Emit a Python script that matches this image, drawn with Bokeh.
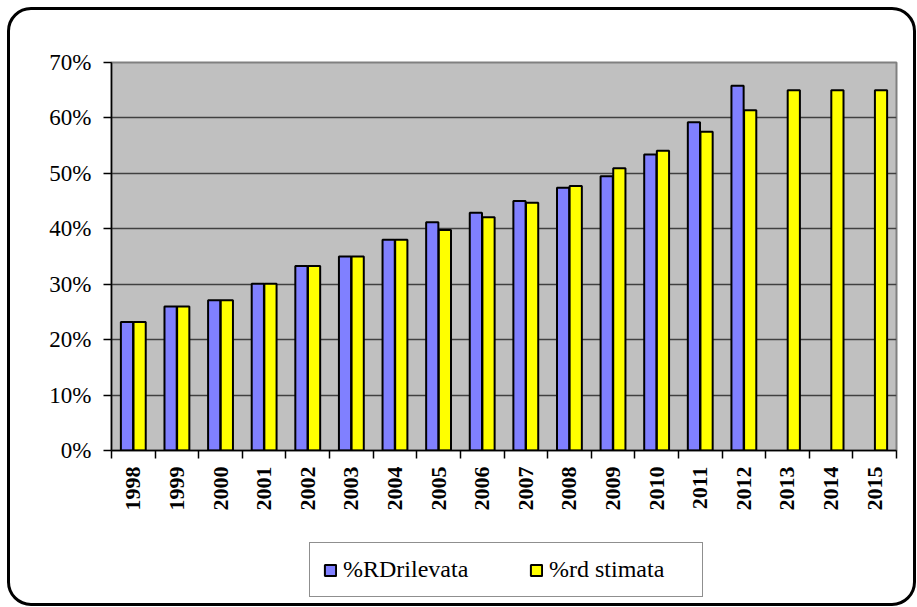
from bokeh.plotting import figure
from bokeh.layouts import column
from bokeh.models import (Range1d, FixedTicker, PrintfTickFormatter, Legend,
                          LegendItem)
from bokeh.embed import file_html
from bokeh.resources import INLINE
import math

years = ["1998", "1999", "2000", "2001", "2002", "2003", "2004", "2005", "2006",
         "2007", "2008", "2009", "2010", "2011", "2012", "2013", "2014", "2015"]
rd_rilevata = [23.2, 26.0, 27.1, 30.1, 33.3, 35.0, 38.0, 41.2, 42.9,
               45.0, 47.4, 49.5, 53.4, 59.2, 65.8, None, None, None]
rd_stimata = [23.2, 26.0, 27.1, 30.1, 33.3, 35.0, 38.0, 39.8, 42.1,
              44.7, 47.7, 50.9, 54.1, 57.5, 61.4, 65.0, 65.0, 65.0]
y_ticks = [0, 10, 20, 30, 40, 50, 60, 70]
series_names = ["%RDrilevata", "%rd stimata"]

SERIF = "Liberation Serif"
OFF = 0.145
BW = 0.28
BLUE = "#8080FF"
YELLOW = "#FFFF00"

p = figure(width=903, height=510, x_range=Range1d(0, len(years)),
           y_range=Range1d(0, 70), output_backend="svg", toolbar_location=None,
           min_border_left=101, min_border_right=17, min_border_top=52,
           min_border_bottom=70)
p.border_fill_color = None
p.background_fill_color = "#C0C0C0"
p.outline_line_color = "#808080"
p.outline_line_width = 2

bx = [i + 0.5 - OFF for i, v in enumerate(rd_rilevata) if v is not None]
bt = [v for v in rd_rilevata if v is not None]
yx = [i + 0.5 + OFF for i, v in enumerate(rd_stimata) if v is not None]
yt = [v for v in rd_stimata if v is not None]

p.vbar(x=bx, top=bt, width=BW, fill_color=BLUE, line_color="black", line_width=2)
p.vbar(x=yx, top=yt, width=BW, fill_color=YELLOW, line_color="black", line_width=2)

# x axis
xa = p.xaxis[0]
centers = [i + 0.5 for i in range(len(years))]
xa.ticker = FixedTicker(ticks=centers, minor_ticks=list(range(len(years) + 1)))
xa.major_label_overrides = {c: y for c, y in zip(centers, years)}
xa.major_tick_line_color = None
xa.major_tick_out = 8
xa.major_tick_in = 0
xa.minor_tick_line_color = "black"
xa.minor_tick_line_width = 1.5
xa.minor_tick_out = 8
xa.minor_tick_in = 0
xa.major_label_orientation = math.pi / 2
xa.major_label_standoff = 8
xa.major_label_text_font = SERIF
xa.major_label_text_font_style = "bold"
xa.major_label_text_font_size = "22px"
xa.major_label_text_color = "black"
xa.axis_line_color = "black"
xa.axis_line_width = 1.5

# y axis
ya = p.yaxis[0]
ya.ticker = FixedTicker(ticks=y_ticks)
ya.formatter = PrintfTickFormatter(format="%d%%")
ya.major_tick_out = 8
ya.major_tick_in = 0
ya.major_tick_line_width = 1.5
ya.major_tick_line_color = "black"
ya.minor_tick_line_color = None
ya.major_label_standoff = 12
ya.major_label_text_font = SERIF
ya.major_label_text_font_size = "23px"
ya.major_label_text_color = "black"
ya.axis_line_color = "black"
ya.axis_line_width = 1.5

p.xgrid.grid_line_color = None
p.ygrid.ticker = FixedTicker(ticks=y_ticks[1:-1])
p.ygrid.grid_line_color = "#404040"
p.ygrid.grid_line_width = 1.5

# legend panel (a second, axis-less figure below the chart); its key glyphs
# carry the series data on wide ranges, shrunk to a speck hidden under the
# opaque legend box
lg = figure(width=903, height=83, x_range=Range1d(-200, 200),
            y_range=Range1d(-500, 500), output_backend="svg",
            toolbar_location=None, min_border=0,
            x_axis_type=None, y_axis_type=None)
lg.border_fill_color = None
lg.background_fill_color = None
lg.outline_line_color = None
lg.xgrid.grid_line_color = None
lg.ygrid.grid_line_color = None
k1 = lg.vbar(x=bx, top=bt, width=BW, fill_color=BLUE, line_color="black",
             line_width=2)
k2 = lg.vbar(x=yx, top=yt, width=BW, fill_color=YELLOW, line_color="black",
             line_width=2)

legend = Legend(items=[LegendItem(label=series_names[0], renderers=[k1]),
                       LegendItem(label=series_names[1], renderers=[k2])],
                location=(198, 6), orientation="horizontal")
legend.border_line_color = "#202020"
legend.border_line_width = 1.5
legend.background_fill_color = "white"
legend.background_fill_alpha = 1
legend.label_text_font = SERIF
legend.label_text_font_size = "24px"
legend.label_text_color = "black"
legend.glyph_width = 14
legend.glyph_height = 14
legend.label_width = 140
legend.spacing = 46
legend.padding = 13
legend.margin = 0
legend.label_standoff = 6
lg.add_layout(legend)

layout = column(p, lg, spacing=0,
                styles={"border": "3px solid black", "border-radius": "24px",
                        "overflow": "hidden", "margin": "7px 0 0 7px"})

open("out.html", "w").write(file_html(layout, INLINE))
